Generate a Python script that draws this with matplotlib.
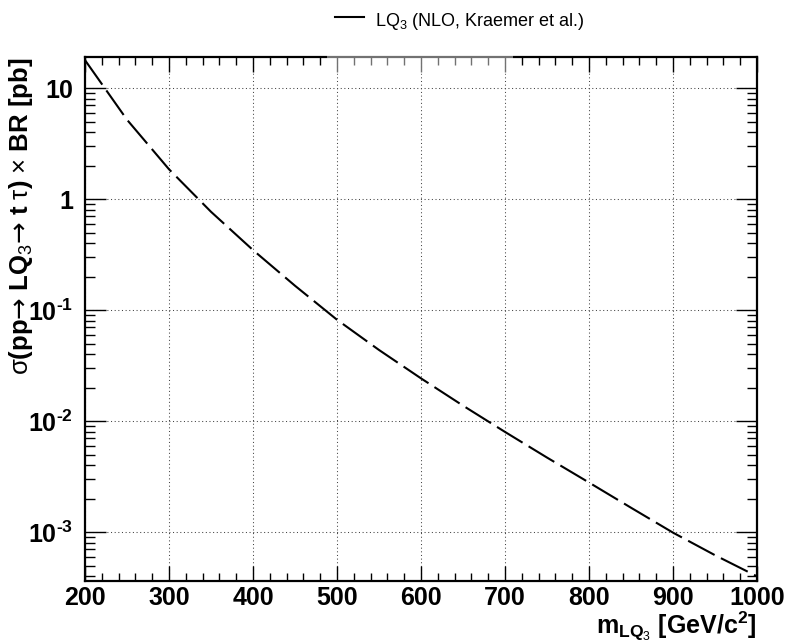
import numpy as np
import matplotlib
matplotlib.use("Agg")
import matplotlib.pyplot as plt
from matplotlib.ticker import FixedLocator, MultipleLocator, FuncFormatter, LogLocator, NullFormatter
from matplotlib.patches import Rectangle

plt.rcParams['font.family'] = ['Liberation Sans', 'DejaVu Sans']
plt.rcParams['mathtext.fontset'] = 'custom'
plt.rcParams['mathtext.rm'] = 'Liberation Sans:bold'
plt.rcParams['mathtext.bf'] = 'Liberation Sans:bold'
plt.rcParams['mathtext.it'] = 'Liberation Sans:bold'
plt.rcParams['mathtext.sf'] = 'Liberation Sans'
plt.rcParams['mathtext.tt'] = 'DejaVu Sans'
plt.rcParams['mathtext.default'] = 'rm'

# ---- data ----
mass = [200, 250, 300, 350, 400, 450, 500, 550, 600, 650, 700, 750, 800, 850, 900, 950, 1000]
xsec = [17.9, 5.2, 1.86, 0.77, 0.348, 0.166, 0.082, 0.0438, 0.0243, 0.0138, 0.0080,
        0.0047, 0.0028, 0.00166, 0.00099, 0.00062, 0.00040]
x_ticks = [200, 300, 400, 500, 600, 700, 800, 900, 1000]
y_ticks = [1e-3, 1e-2, 1e-1, 1, 10]
legend_label = r"LQ$_{\mathsf{3}}$ (NLO, Kraemer et al.)"
x_label = r"m$_{\mathrm{LQ}_{\mathsf{3}}}$ [GeV/c$^{\mathrm{2}}$]"
y_label = (r"$\mathsf{σ}$(pp$\mathtt{→}$ LQ$_{\mathsf{3}}$$\mathtt{→}$ t $\mathsf{τ}$) "
           r"$\mathsf{×}$ BR [pb]")

W, H = 785, 643
fig = plt.figure(figsize=(W / 100, H / 100), dpi=100)
L, R, T, B = 85, 757, 57, 581
ax = fig.add_axes([L / W, (H - B) / H, (R - L) / W, (B - T) / H])

ax.plot(mass, xsec, color='black', lw=1.5, dashes=(14.4, 3.4), zorder=3)

ax.set_yscale('log')
ax.set_xlim(200, 1000)
ax.set_ylim(3.63e-4, 19.1)

ax.xaxis.set_major_locator(FixedLocator(x_ticks))
ax.xaxis.set_minor_locator(MultipleLocator(20))
ax.yaxis.set_major_locator(FixedLocator(y_ticks))
ax.yaxis.set_minor_locator(LogLocator(base=10, subs=np.arange(2, 10), numticks=20))
ax.yaxis.set_minor_formatter(NullFormatter())


def yfmt(v, pos):
    e = int(round(np.log10(v)))
    if e == 1:
        return "10"
    if e == 0:
        return "1"
    return "10$^{\\mathrm{\u2010%d}}$" % (-e)


ax.yaxis.set_major_formatter(FuncFormatter(yfmt))

ax.tick_params(axis='both', which='both', direction='in', top=True, right=True,
               width=1.0, labelsize=18)
ax.tick_params(axis='x', which='major', length=11, pad=3.5)
ax.tick_params(axis='x', which='minor', length=5.5)
ax.tick_params(axis='y', which='major', length=15, pad=8.5)
ax.tick_params(axis='y', which='minor', length=7.5)
for lab in ax.get_xticklabels() + ax.get_yticklabels():
    lab.set_fontweight('bold')

for s in ax.spines.values():
    s.set_linewidth(1.6)

ax.grid(which='major', color='#444444', lw=0.75, linestyle=(0, (1, 2.5)), zorder=1)

# legend (above plot)
fig.add_artist(plt.Line2D([335 / W, 364 / W], [1 - 17 / H, 1 - 17 / H], color='black', lw=1.5))
fig.text(375 / W, 1 - 22 / H, legend_label, fontsize=13, fontweight='normal',
         ha='left', va='center')
fig.add_artist(Rectangle((327 / W, 1 - 74 / H), (513 - 327) / W, 74 / H,
                         transform=fig.transFigure, facecolor='white', alpha=0.45,
                         edgecolor='none', zorder=1))

# axis titles
fig.text(R / W, 1 - 634 / H, x_label, fontsize=18, fontweight='bold',
         ha='right', va='baseline')
fig.text(21 / W, 1 - 57 / H, y_label, fontsize=18.5, fontweight='bold',
         rotation=90, ha='center', va='top')

fig.savefig("out.png", dpi=100)
